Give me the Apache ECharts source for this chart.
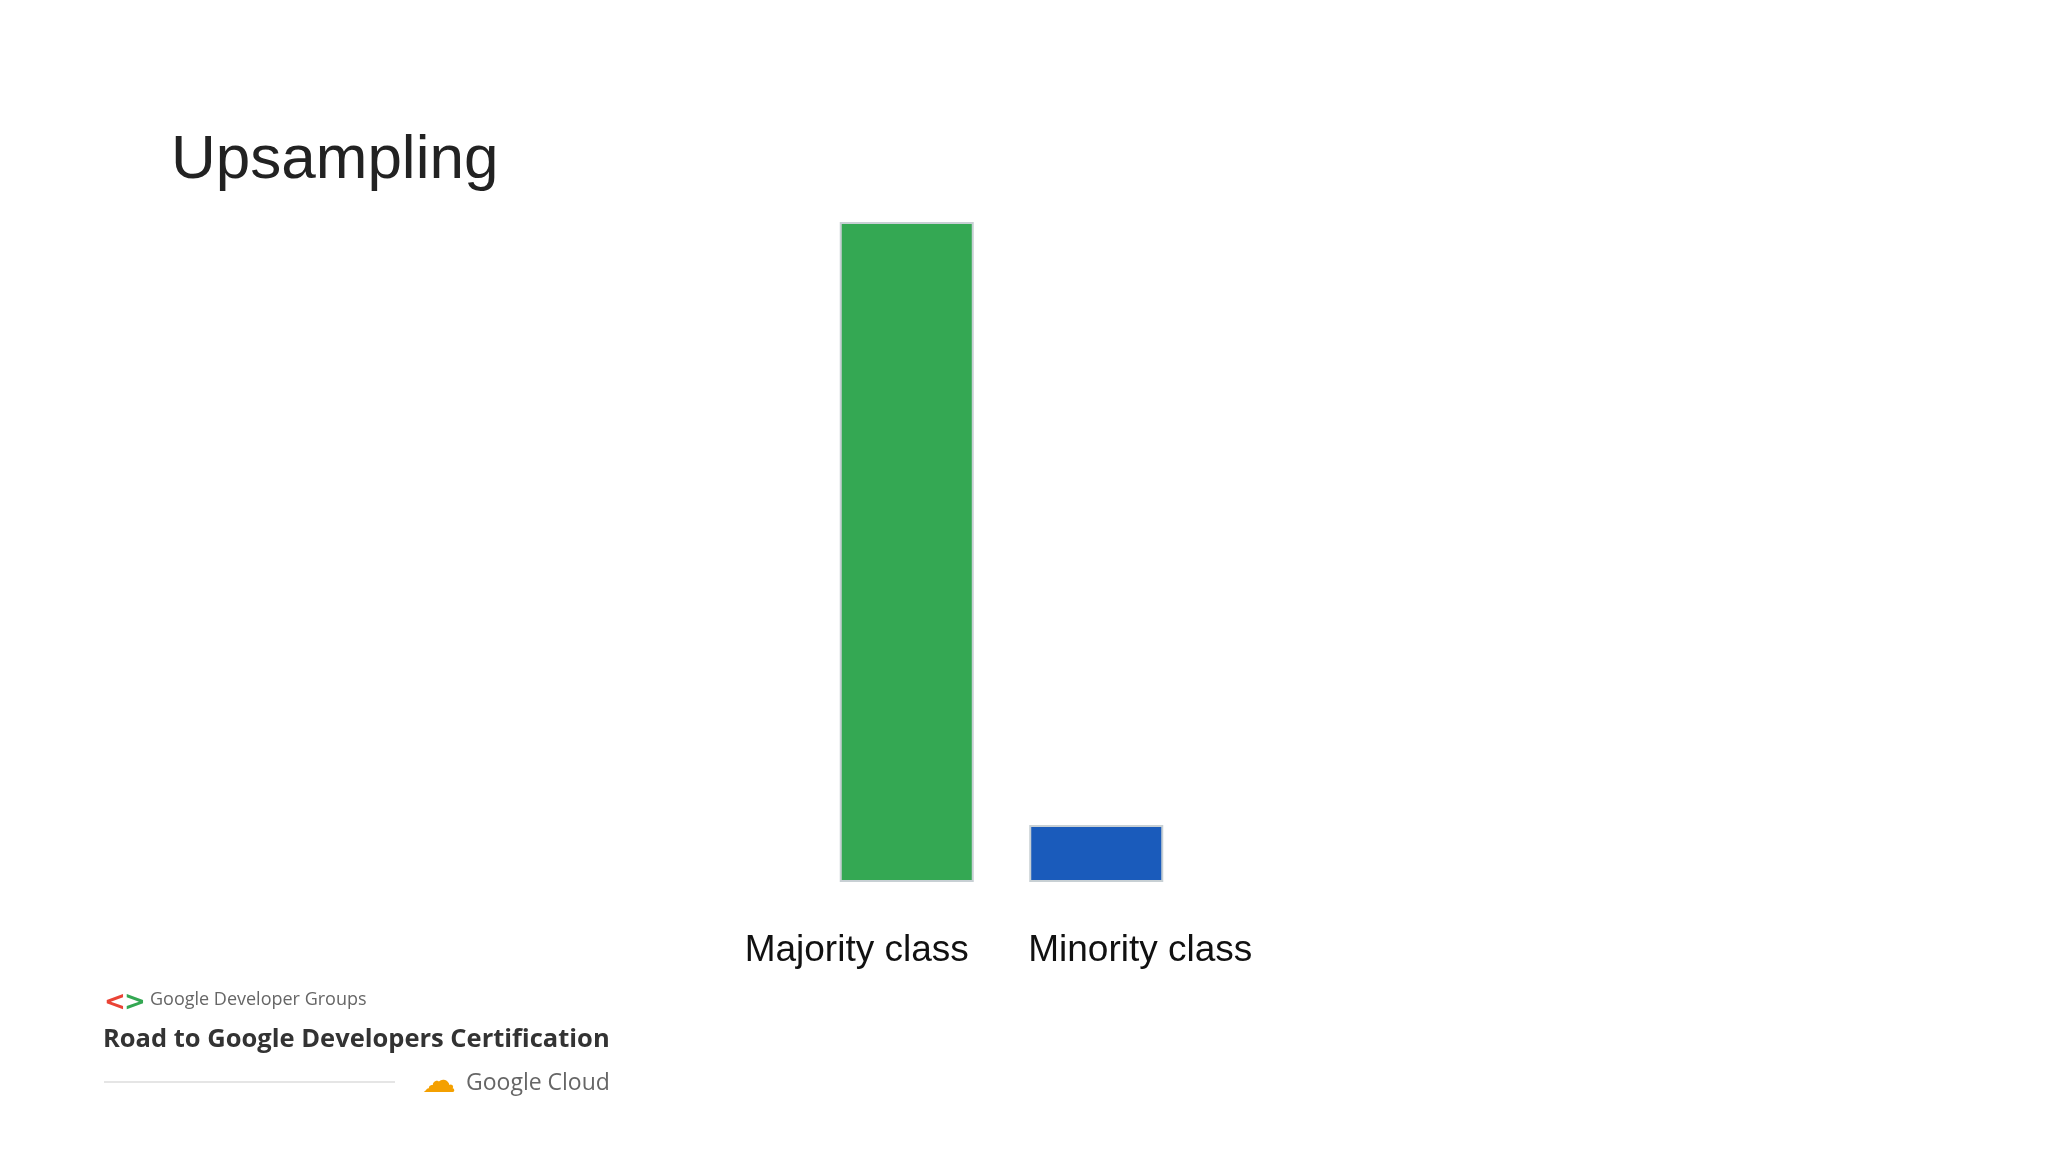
<!DOCTYPE html>
<html><head><meta charset="utf-8">
<script src="https://cdn.jsdelivr.net/npm/echarts@6/dist/echarts.min.js"></script>
<style>html,body{margin:0;background:#fff}#c{width:2048px;height:1152px}</style>
</head><body><div id="c"></div>
<script>
const categories = ['Majority class', 'Minority class'];
const counts = [116, 10];
const barColors = ['#34a853', '#1a5bbb'];

const chart = echarts.init(document.getElementById('c'));
chart.setOption({
  backgroundColor: '#ffffff',
  animation: false,
  grid: { left: 812, right: 857, top: 222, bottom: 270 },
  xAxis: {
    type: 'category',
    data: [
      { value: categories[0], textStyle: { align: 'right', padding: [0, -62, 0, 0] } },
      { value: categories[1], textStyle: { align: 'left', padding: [0, 0, 0, -68] } }
    ],
    axisLine: { show: false }, axisTick: { show: false },
    axisLabel: { margin: 50, fontSize: 37, color: '#111', fontFamily: 'Liberation Sans, Arial', interval: 0 }
  },
  yAxis: { type: 'value', min: 0, max: 116, show: false, splitLine: { show: false } },
  series: [{
    type: 'bar', barWidth: 134,
    data: counts.map((v, i) => ({ value: v, itemStyle: { color: barColors[i] } })),
    itemStyle: { borderColor: '#c8d0d4', borderWidth: 2 }
  }],
  graphic: [
    { type: 'text', left: 171, top: 130, style: { text: 'Upsampling', fontSize: 62, fill: '#222', fontFamily: 'Liberation Sans, Arial' } },
    { type: 'text', left: 104, top: 990, style: { text: '<', fontSize: 26, fontWeight: 'bold', fill: '#ea4335', fontFamily: 'DejaVu Sans' } },
    { type: 'text', left: 124, top: 990, style: { text: '>', fontSize: 26, fontWeight: 'bold', fill: '#34a853', fontFamily: 'DejaVu Sans' } },
    { type: 'text', left: 150, top: 991, style: { text: 'Google Developer Groups', fontSize: 18, fill: '#666', fontFamily: 'Open Sans' } },
    { type: 'text', left: 103, top: 1027, style: { text: 'Road to Google Developers Certification', fontSize: 25.5, fontWeight: 'bold', fill: '#333', fontFamily: 'Open Sans' } },
    { type: 'line', shape: { x1: 104, y1: 1082, x2: 395, y2: 1082 }, style: { stroke: '#ddd', lineWidth: 1.5 } },
    { type: 'text', left: 422, top: 1066, style: { text: '☁', fontSize: 34, fill: '#f4a000', fontFamily: 'DejaVu Sans' } },
    { type: 'text', left: 466, top: 1072, style: { text: 'Google Cloud', fontSize: 23, fill: '#666', fontFamily: 'Open Sans' } }
  ]
});
</script></body></html>
